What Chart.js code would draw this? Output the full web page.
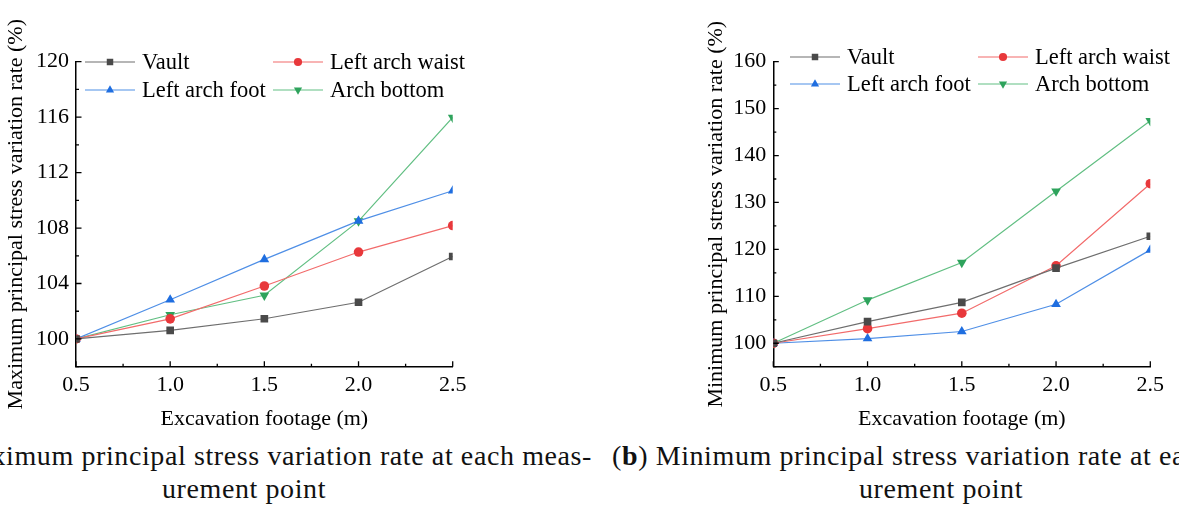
<!DOCTYPE html>
<html>
<head>
<meta charset="utf-8">
<script src="https://cdn.jsdelivr.net/npm/chart.js@4/dist/chart.umd.min.js"></script>
<style>
  html, body { margin: 0; padding: 0; background: #fff; }
  #stage { position: relative; width: 1179px; height: 506px; overflow: hidden; background: #fff; }
  canvas { position: absolute; top: 0; }
  .cap { position: absolute; white-space: nowrap; font-family: "Liberation Serif", "Times New Roman", serif;
         font-size: 28px; line-height: 28px; letter-spacing: 0.6px; color: #111; }
</style>
</head>
<body>
<div id="stage">
  <canvas id="chartA" width="480" height="432" style="left:0px"></canvas>
  <canvas id="chartB" width="479" height="432" style="left:700px"></canvas>
  <div class="cap" id="capA1" style="top:442px; right:587px;">(<b>a</b>) Maximum principal stress variation rate at each meas-</div>
  <div class="cap" id="capA2" style="top:475px; left:244px; transform:translateX(-50%);">urement point</div>
  <div class="cap" id="capB1" style="top:442px; left:612px;">(<b>b</b>) Minimum principal stress variation rate at each meas-</div>
  <div class="cap" id="capB2" style="top:475px; left:941px; transform:translateX(-50%);">urement point</div>
</div>
<script>
// Excavation footage (m)
const footage = [0.5, 1.0, 1.5, 2.0, 2.5];
const xTickLabels = ['0.5', '1.0', '1.5', '2.0', '2.5'];
const xMinorTicks = [0.75, 1.25, 1.75, 2.25];

const seriesNames = ['Vault', 'Left arch waist', 'Left arch foot', 'Arch bottom'];

// Maximum principal stress variation rate (%)
const maxVault  = [100, 100.62, 101.46, 102.65, 105.95];
const maxWaist  = [100, 101.45, 103.82, 106.27, 108.18];
const maxFoot   = [100, 102.83, 105.74, 108.52, 110.69];
const maxBottom = [100, 101.75, 103.15, 108.50, 115.98];
const maxYTicks = [100, 104, 108, 112, 116, 120];
const maxYMinor = [98, 102, 106, 110, 114, 118];

// Minimum principal stress variation rate (%)
const minVault  = [100, 104.6, 108.7, 116.0, 122.8];
const minWaist  = [100, 103.1, 106.4, 116.5, 134.0];
const minFoot   = [100, 101.0, 102.5, 108.3, 119.9];
const minBottom = [100, 109.2, 117.2, 132.4, 147.4];
const minYTicks = [100, 110, 120, 130, 140, 150, 160];
const minYMinor = [95, 105, 115, 125, 135, 145, 155];

const FONT = '"Liberation Serif", "Times New Roman", serif';

const styles = [
  { line: '#6e6e6e', mark: '#4a4a4a', shape: 'rect',     r: 5.4, rot: 0 },
  { line: '#f26b6b', mark: '#e8383b', shape: 'circle',   r: 4.8, rot: 0 },
  { line: '#4f8fe6', mark: '#1f6ee0', shape: 'triangle', r: 5.6, rot: 0 },
  { line: '#62bf83', mark: '#2ea35c', shape: 'triangle', r: 5.6, rot: 180 }
];

function toPoints(values) {
  return values.map((v, i) => ({ x: footage[i], y: v }));
}

function markerPath(ctx, shape, x, y, r, rot) {
  ctx.beginPath();
  if (shape === 'circle') {
    ctx.arc(x, y, r, 0, Math.PI * 2);
  } else if (shape === 'rect') {
    const s = Math.SQRT1_2 * r;
    ctx.rect(x - s, y - s, 2 * s, 2 * s);
  } else {
    const dir = rot === 180 ? -1 : 1;
    ctx.moveTo(x, y - dir * r);
    ctx.lineTo(x + r * 0.866, y + dir * r * 0.5);
    ctx.lineTo(x - r * 0.866, y + dir * r * 0.5);
    ctx.closePath();
  }
}

// Inward major/minor ticks on the bottom and left axes
const axisTicks = {
  id: 'axisTicks',
  afterDraw(chart, args, opts) {
    const { ctx, chartArea } = chart;
    const xs = chart.scales.x, ys = chart.scales.y;
    ctx.save();
    ctx.strokeStyle = '#000';
    ctx.lineWidth = 1.3;
    ctx.beginPath();
    footage.forEach(v => {
      const px = xs.getPixelForValue(v);
      ctx.moveTo(px, chartArea.bottom); ctx.lineTo(px, chartArea.bottom - 5.5);
    });
    xMinorTicks.forEach(v => {
      const px = xs.getPixelForValue(v);
      ctx.moveTo(px, chartArea.bottom); ctx.lineTo(px, chartArea.bottom - 3);
    });
    opts.major.forEach(v => {
      const py = ys.getPixelForValue(v);
      ctx.moveTo(chartArea.left, py); ctx.lineTo(chartArea.left + 5.5, py);
    });
    opts.minor.forEach(v => {
      const py = ys.getPixelForValue(v);
      ctx.moveTo(chartArea.left, py); ctx.lineTo(chartArea.left + 3, py);
    });
    ctx.stroke();
    ctx.restore();
  }
};

// Two-column legend drawn inside the plot area
const innerLegend = {
  id: 'innerLegend',
  afterDraw(chart, args, opts) {
    const ctx = chart.ctx;
    ctx.save();
    ctx.font = '22.5px ' + FONT;
    ctx.textBaseline = 'middle';
    chart.data.datasets.forEach((ds, i) => {
      const col = i % 2, row = Math.floor(i / 2);
      const x0 = opts.cols[col], y0 = opts.rows[row];
      const st = styles[i];
      ctx.strokeStyle = st.line;
      ctx.lineWidth = 1.2;
      ctx.beginPath();
      ctx.moveTo(x0, y0); ctx.lineTo(x0 + 50, y0);
      ctx.stroke();
      ctx.fillStyle = st.mark;
      markerPath(ctx, st.shape, x0 + 25, y0, st.r * 0.85, st.rot);
      ctx.fill();
      ctx.fillStyle = '#000';
      ctx.fillText(ds.label, x0 + 57, y0 + 1);
    });
    ctx.restore();
  }
};

function buildChart(id, series, yMin, yMax, yMajor, yMinor, yTitle, geom) {
  const datasets = series.map((vals, i) => ({
    label: seriesNames[i],
    data: toPoints(vals),
    borderColor: styles[i].line,
    backgroundColor: styles[i].mark,
    borderWidth: 1.2,
    pointStyle: styles[i].shape,
    pointRotation: styles[i].rot,
    pointRadius: styles[i].r,
    pointBorderWidth: 0,
    pointBackgroundColor: styles[i].mark,
    pointBorderColor: styles[i].mark,
    tension: 0
  }));
  return new Chart(document.getElementById(id), {
    type: 'line',
    data: { datasets },
    options: {
      responsive: false,
      animation: false,
      devicePixelRatio: 1,
      layout: { padding: { left: 0, top: geom.top, right: geom.right, bottom: 0 } },
      plugins: {
        legend: { display: false },
        tooltip: { enabled: false },
        axisTicks: { major: yMajor, minor: yMinor },
        innerLegend: { cols: geom.legendCols, rows: geom.legendRows }
      },
      scales: {
        x: {
          type: 'linear', min: 0.5, max: 2.5,
          afterBuildTicks: s => { s.ticks = footage.map(v => ({ value: v })); },
          afterFit: s => { s.height = geom.xHeight; },
          grid: { display: false, drawTicks: false },
          border: { display: true, color: '#000', width: 1.5 },
          ticks: {
            color: '#000', padding: 5, maxRotation: 0, autoSkip: false,
            font: { family: FONT, size: 22 },
            callback: (v, i) => xTickLabels[i]
          },
          title: {
            display: true, text: 'Excavation footage (m)', color: '#000',
            font: { family: FONT, size: 22 }, padding: { top: 0, bottom: 0 }
          }
        },
        y: {
          type: 'linear', min: yMin, max: yMax,
          afterBuildTicks: s => { s.ticks = yMajor.map(v => ({ value: v })); },
          afterFit: s => { s.width = geom.yWidth; },
          grid: { display: false, drawTicks: false },
          border: { display: true, color: '#000', width: 1.5 },
          ticks: {
            color: '#000', padding: 7, autoSkip: false,
            font: { family: FONT, size: 22 },
            callback: v => String(v)
          },
          title: {
            display: true, text: yTitle, color: '#000',
            font: { family: FONT, size: 22 }, padding: { top: 3, bottom: 0 }
          }
        }
      }
    },
    plugins: [axisTicks, innerLegend]
  });
}

buildChart('chartA', [maxVault, maxWaist, maxFoot, maxBottom], 98, 120, maxYTicks, maxYMinor,
  'Maximum principal stress variation rate (%)',
  { top: 61.7, right: 27.3, xHeight: 65.3, yWidth: 76, legendCols: [85, 273], legendRows: [62, 90] });

buildChart('chartB', [minVault, minWaist, minFoot, minBottom], 95, 160, minYTicks, minYMinor,
  'Minimum principal stress variation rate (%)',
  { top: 61.7, right: 28.7, xHeight: 65.3, yWidth: 73.3, legendCols: [90, 278], legendRows: [57, 84] });
</script>
</body>
</html>
